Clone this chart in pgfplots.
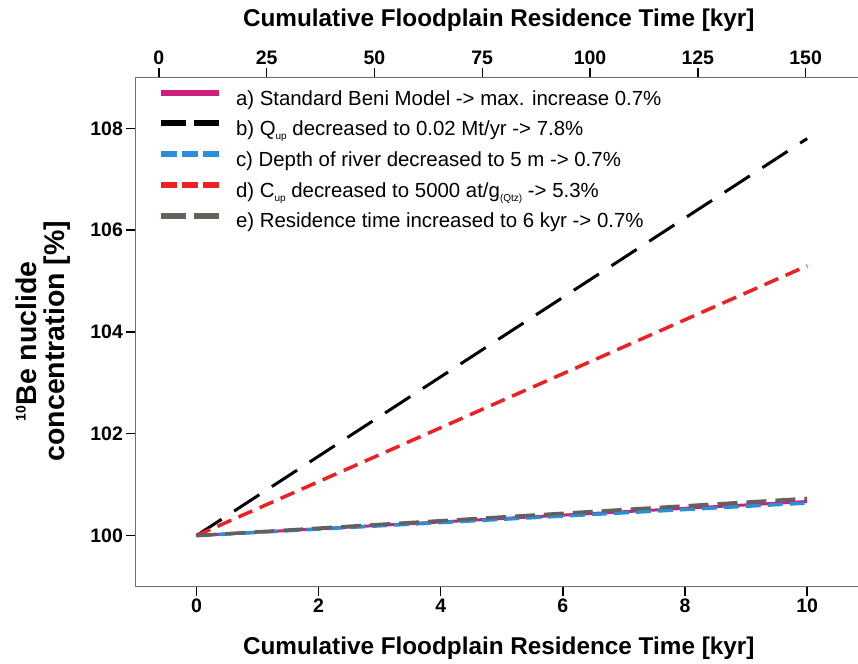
\documentclass[border=0pt]{standalone}
\usepackage{fontspec}
\setmainfont{Liberation Sans}
\usepackage{pgfplots}
\pgfplotsset{compat=1.18}
\definecolor{cpink}{RGB}{206,31,122}
\definecolor{cblue}{RGB}{41,143,214}
\definecolor{cred}{RGB}{237,32,36}
\definecolor{cgray}{RGB}{99,96,94}
\definecolor{caxis}{RGB}{110,110,110}
\newcommand{\sub}[1]{\raisebox{-4bp}{\fontsize{10bp}{10bp}\selectfont #1}}
\begin{document}
\begin{tikzpicture}
\useasboundingbox (0bp,0bp) rectangle (858bp,664bp);
\begin{axis}[
  at={(135.4bp,77.5bp)}, anchor=south west,
  scale only axis, width=726.7bp, height=509bp,
  xmin=-1, xmax=10.9, ymin=99, ymax=109,
  xtick={0,2,4,6,8,10}, ytick={100,102,104,106,108},
  xtick pos=lower, ytick pos=left, tick align=outside,
  major tick length=9bp,
  every tick/.style={black, line width=1.4bp},
  axis line style={draw=caxis, line width=1.4bp},
  /pgf/number format/assume math mode=true,
  ticklabel style={font=\bfseries\fontsize{19.5bp}{21bp}\selectfont},
  xlabel={Cumulative Floodplain Residence Time [kyr]},
  xlabel style={font=\bfseries\fontsize{24.3bp}{28bp}\selectfont, at={(axis description cs:0.5,-0.133)}, anchor=base},
  ylabel={\raisebox{11bp}{\fontsize{14bp}{14bp}\selectfont 10}Be nuclide\\concentration [\%]},
  ylabel style={font=\bfseries\fontsize{28.5bp}{28bp}\selectfont, align=center, at={(axis description cs:-0.127,0.482)}, anchor=center},
  legend image code/.code={\draw[#1] (0bp,7.3bp) -- (58bp,7.3bp);},
  legend style={draw=none, fill=none, at={(rel axis cs:0,1)}, anchor=north west,
    xshift=22.6bp, yshift=-12.3bp, inner sep=0pt, outer sep=0pt,
    font=\fontsize{20.4bp}{24bp}\selectfont,
    nodes={inner sep=0pt, text height=15bp, text depth=5bp},
    row sep=10.4bp, column sep=14bp},
  legend cell align=left,
]
\addlegendimage{cpink, line width=6bp}
\addlegendentry{a) Standard Beni Model -> max. increase 0.7\%}
\addlegendimage{black, line width=6bp, dash pattern=on 25bp off 8bp}
\addlegendentry{b) Q\sub{up} decreased to 0.02 Mt/yr -> 7.8\%}
\addlegendimage{cblue, line width=6bp, dash pattern=on 16bp off 5bp}
\addlegendentry{c) Depth of river decreased to 5 m -> 0.7\%}
\addlegendimage{cred, line width=6bp, dash pattern=on 16bp off 5bp}
\addlegendentry{d) C\sub{up} decreased to 5000 at/g\sub{(Qtz)} -> 5.3\%}
\addlegendimage{cgray, line width=6bp, dash pattern=on 25bp off 8bp}
\addlegendentry{e) Residence time increased to 6 kyr -> 0.7\%}

\addplot[forget plot, cpink, line width=3bp] coordinates {(0,100) (10,100.67)};
\addplot[forget plot, black, line width=3bp, dash pattern=on 30bp off 15bp] coordinates {(0,100) (10,107.8)};
\addplot[forget plot, cblue, line width=3.5bp, dash pattern=on 15bp off 7bp] coordinates {(0,100) (10,100.64)};
\addplot[forget plot, cred, line width=3.5bp, dash pattern=on 15bp off 8bp] coordinates {(0,100) (10,105.3)};
\addplot[forget plot, cgray, line width=3.5bp, dash pattern=on 20bp off 9bp] coordinates {(0,100) (10,100.73)};
\end{axis}
\begin{axis}[
  at={(135.4bp,77.5bp)}, anchor=south west,
  scale only axis, width=726.7bp, height=509bp,
  xmin=-5.43, xmax=163.1, ymin=0, ymax=1,
  axis x line*=top, axis y line=none,
  x axis line style={draw=none},
  xtick={0,25,50,75,100,125,150},
  tick align=outside, major tick length=9bp,
  every tick/.style={black, line width=1.4bp},
  /pgf/number format/assume math mode=true,
  ticklabel style={font=\bfseries\fontsize{19.5bp}{21bp}\selectfont},
  xlabel={Cumulative Floodplain Residence Time [kyr]},
  xlabel style={font=\bfseries\fontsize{24.3bp}{28bp}\selectfont, at={(axis description cs:0.5,1.0992)}, anchor=base},
]
\addplot[draw=none, forget plot] coordinates {(0,0.5)};
\end{axis}
\end{tikzpicture}
\end{document}
